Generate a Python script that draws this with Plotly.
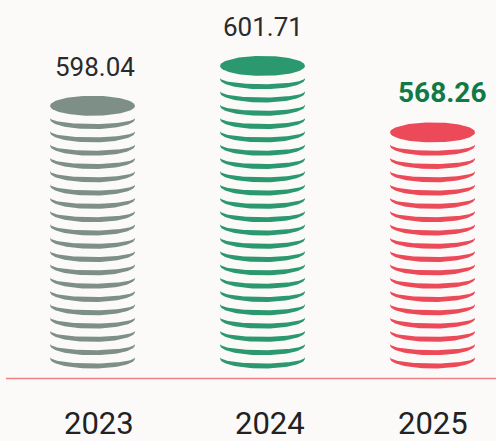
import numpy as np
import plotly.graph_objects as go

# Data
years = ["2023", "2024", "2025"]
values = [598.04, 601.71, 568.26]
coin_counts = [20, 23, 18]          # coins in each stack (top coin included)

# Styling
coin_colors = ["#7e8f88", "#2b9870", "#ec4a58"]
value_colors = ["#2a2a2a", "#2a2a2a", "#0f7a45"]
value_sizes = [26, 26, 28]
value_bold = [False, False, True]
value_xshift = [2, 0, 9]
year_xshift = [6, 7, 0]
bg = "#fbfaf9"
font_family = "Roboto, 'Open Sans', sans-serif"

# Coin geometry (x in category units, y in px-like units above the baseline)
A = 0.25        # half width of a coin
B = 10.0        # half height of a coin face
D = 13.3        # vertical pitch between coins
BOTTOM = 20.0   # centre of the lowest coin
T = 5.0         # rim thickness at the front
E = 1.2         # rim thickness at the ends

fig = go.Figure()

half = np.linspace(np.pi, 2 * np.pi, 60)
full = np.linspace(0, 2 * np.pi, 120)

for i, (yr, n, col) in enumerate(zip(years, coin_counts, coin_colors)):
    xs, ys = [], []
    # rims of the lower coins, drawn as crescents
    for k in range(n - 1):
        yc = BOTTOM + k * D
        ox = i + A * np.cos(half)
        oy = yc + B * np.sin(half)
        ix = (i + A * np.cos(half))[::-1]
        iy = (yc + E + (B - T + E) * np.sin(half))[::-1]
        xs += list(ox) + list(ix) + [None]
        ys += list(oy) + list(iy) + [None]
    fig.add_trace(go.Scatter(
        x=xs, y=ys, mode="lines", fill="toself", fillcolor=col,
        line=dict(width=0, color=col), hoverinfo="skip", showlegend=False))

    # top coin face
    top = BOTTOM + (n - 1) * D
    fig.add_trace(go.Scatter(
        x=i + A * np.cos(full), y=top + B * np.sin(full),
        mode="lines", fill="toself", fillcolor=col,
        line=dict(width=0, color=col), hoverinfo="skip", showlegend=False))

    # value label above the stack
    txt = f"{values[i]:.2f}"
    if value_bold[i]:
        txt = f"<b>{txt}</b>"
    fig.add_annotation(
        x=i, y=top + B + 11.5, text=txt, showarrow=False, yanchor="bottom",
        xshift=value_xshift[i],
        font=dict(family=font_family, size=value_sizes[i], color=value_colors[i]))

    # year label below the baseline
    fig.add_annotation(
        x=i, y=-45, text=yr, showarrow=False, yanchor="middle",
        xshift=year_xshift[i],
        font=dict(family=font_family, size=31, color="#222222"))

# baseline
fig.add_shape(type="line", xref="paper", yref="y", x0=6 / 496, x1=1, y0=0, y1=0,
              line=dict(color="#f07f84", width=1.5), layer="below")

fig.update_layout(
    width=496, height=441, autosize=False,
    margin=dict(l=0, r=0, t=0, b=0),
    paper_bgcolor=bg, plot_bgcolor=bg,
    xaxis=dict(range=[-92.5 / 170, (496 - 92.5) / 170], visible=False, fixedrange=True),
    yaxis=dict(range=[-62.5, 378.5], visible=False, fixedrange=True),
    showlegend=False,
)

fig.write_html("out.html")
